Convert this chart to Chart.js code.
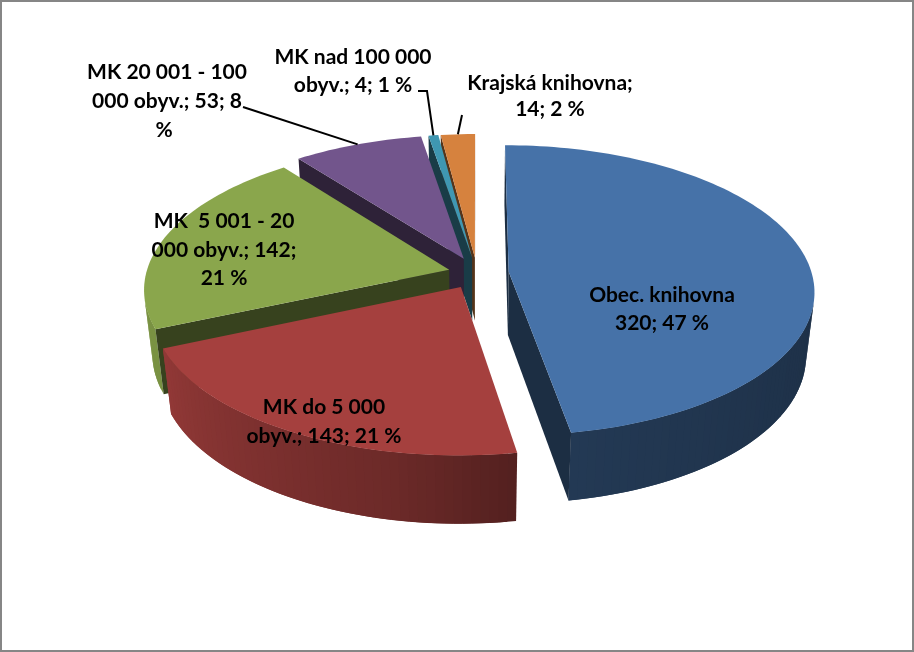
<!DOCTYPE html>
<html><head><meta charset="utf-8">
<style>html,body{margin:0;padding:0;background:#fff}canvas{display:block}</style>
<script src="https://cdn.jsdelivr.net/npm/chart.js@4/dist/chart.umd.js"></script>
</head><body><canvas id="c" width="914" height="652"></canvas>
<script>
const categories = ['Obec. knihovna','MK do 5 000 obyv.','MK  5 001 - 20 000 obyv.','MK 20 001 - 100 000 obyv.','MK nad 100 000 obyv.','Krajská knihovna'];
const values = [320,143,142,53,4,14];
const colors = ['#4672A8','#A5403E','#8AA64C','#72558C','#3F97B2','#D6823E'];
const drawOrder = [5,4,3,2,0,1];
const labelLines = [
  [['Obec. knihovna',662,295],['320; 47 %',662,323]],
  [['MK do 5 000',324,407],['obyv.; 143; 21 %',324,436]],
  [['MK  5 001 - 20',224,221],['000 obyv.; 142;',224,250],['21 %',224,278]],
  [['MK 20 001 - 100',167,72],['000 obyv.; 53; 8',167,101],['%',164,130]],
  [['MK nad 100 000',353,57],['obyv.; 4; 1 %',353,85]],
  [['Krajská knihovna;',550,83],['14; 2 %',550,109]]
];
const leaderStarts = [null,null,null,[[243,107]],[[418,91],[427,91]],[[462,115]]];
const explodeBy = [0.105,0.11,0.095,0.11,0.11,0.11];
const view = {cx:477,cy:273,ax:303,by:143,dz:65,px:0.13,py:0.128,q:0.025,faceShade:0.4};

function shadeAt(deg){
  const t=[[0,.42],[90,.42],[130,.45],[170,.5],[190,.65],[246,.88],[360,.9]];
  for(let i=1;i<t.length;i++) if(deg<=t[i][0]){
    const f=(deg-t[i-1][0])/(t[i][0]-t[i-1][0]);
    return t[i-1][1]+f*(t[i][1]-t[i-1][1]);
  }
  return .9;
}
function mult(hex,k){
  const n=parseInt(hex.slice(1),16);
  return `rgb(${Math.round((n>>16&255)*k)},${Math.round((n>>8&255)*k)},${Math.round((n&255)*k)})`;
}
function project(X,Y,z){
  return [view.cx+view.ax*X/(1-view.px*Y+view.q*z), view.cy+(view.by*Y+view.dz*z)/(1-view.py*Y+view.q*z)];
}
function area(pts){
  let s=0;
  pts.forEach((p,i)=>{const q=pts[(i+1)%pts.length];s+=p[0]*q[1]-q[0]*p[1];});
  return s;
}
function fillPoly(ctx,pts,fill){
  ctx.beginPath();pts.forEach((p,i)=>i?ctx.lineTo(p[0],p[1]):ctx.moveTo(p[0],p[1]));ctx.closePath();
  ctx.fillStyle=fill;ctx.fill();
}
class Pie3dArc extends Chart.ArcElement {
  static id='pie3dArc';
  static defaults=Chart.ArcElement.defaults;
  pt(a,r,z){
    const m=(this.startAngle+this.endAngle)/2,ex=explodeBy[this.$index];
    return project(r*Math.cos(a)+ex*Math.cos(m), r*Math.sin(a)+ex*Math.sin(m), z);
  }
  midOuter(){return this.pt((this.startAngle+this.endAngle)/2,1,0);}
  draw(ctx){
    const s=this.startAngle,e=this.endAngle,col=this.options.backgroundColor;
    const dark=mult(col,view.faceShade);
    ctx.save();
    const n=Math.max(2,Math.ceil((e-s)/(Math.PI/120)));
    // outer wall, front-facing parts only; each strip overlaps the next one so no seams show
    for(let i=0;i<n;i++){
      const a=s+(e-s)*i/n,b=s+(e-s)*(i+1)/n,b2=s+(e-s)*Math.min(i+2,n)/n;
      const q=[this.pt(a,1,0),this.pt(b,1,0),this.pt(b,1,1),this.pt(a,1,1)];
      if(area(q)>=0) continue;
      const deg=((a+b)/2+Math.PI/2)*180/Math.PI;
      fillPoly(ctx,[this.pt(a,1,0),this.pt(b2,1,0),this.pt(b2,1,1),this.pt(a,1,1)],mult(col,shadeAt(deg)));
    }
    // cut faces, only when they look at the viewer
    const fs=[this.pt(s,0,0),this.pt(s,1,0),this.pt(s,1,1),this.pt(s,0,1)];
    const fe=[this.pt(e,0,0),this.pt(e,1,0),this.pt(e,1,1),this.pt(e,0,1)];
    if(area(fs)<0) fillPoly(ctx,fs,dark);
    if(area(fe)>0) fillPoly(ctx,fe,dark);
    const top=[this.pt(s,0,0)];
    for(let i=0;i<=n;i++) top.push(this.pt(s+(e-s)*i/n,1,0));
    fillPoly(ctx,top,col);
    ctx.restore();
  }
}
class Pie3dController extends Chart.PieController {
  static id='pie3d';
  static defaults={...Chart.PieController.defaults,dataElementType:'pie3dArc'};
  draw(){
    const ctx=this.chart.ctx,els=this._cachedMeta.data;
    els.forEach((el,i)=>{el.$index=i;});
    drawOrder.forEach(i=>els[i].draw(ctx));
  }
}
Chart.register(Pie3dArc,Pie3dController);

const frame={id:'frame',
  beforeDraw(ch){const c=ch.ctx;c.save();c.fillStyle='#fff';c.fillRect(0,0,ch.width,ch.height);
    c.strokeStyle='#868686';c.lineWidth=2;c.strokeRect(1,1,ch.width-2,ch.height-2);c.restore();},
  afterDraw(ch){
    const c=ch.ctx,els=ch.getDatasetMeta(0).data;
    c.save();c.strokeStyle='#000';c.lineWidth=2;
    leaderStarts.forEach((st,i)=>{ if(!st) return;
      const end=els[i].midOuter();
      c.beginPath();st.forEach((p,j)=>j?c.lineTo(p[0],p[1]):c.moveTo(p[0],p[1]));c.lineTo(end[0],end[1]);c.stroke();});
    c.fillStyle='#000';c.font='bold 21px Lato';c.textAlign='center';c.textBaseline='middle';
    labelLines.forEach(g=>g.forEach(l=>c.fillText(l[0],l[1],l[2])));
    c.restore();
  }};
new Chart(document.getElementById('c'),{
  type:'pie3d',
  data:{labels:categories,datasets:[{data:values,backgroundColor:colors,borderWidth:0}]},
  options:{responsive:false,animation:false,plugins:{legend:{display:false},tooltip:{enabled:false}}},
  plugins:[frame]
});
</script></body></html>
